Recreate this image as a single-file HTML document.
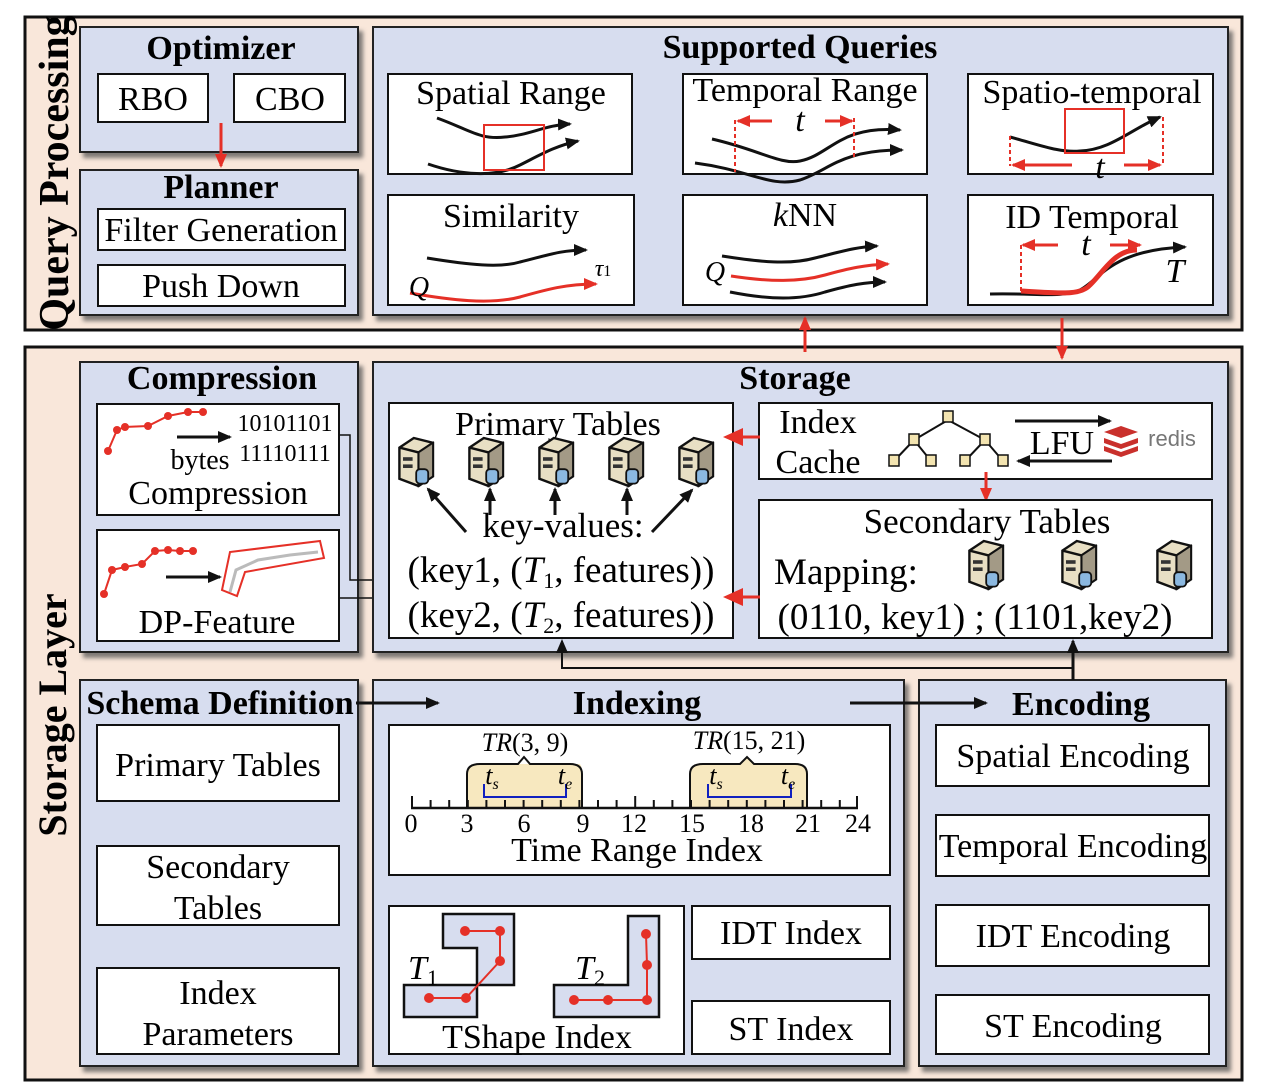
<!DOCTYPE html>
<html><head><meta charset="utf-8"><style>
html,body{margin:0;padding:0;background:#fff;}
svg{display:block;font-family:"Liberation Serif",serif;}
.p{fill:#d7ddef;stroke:#222;stroke-width:2;filter:url(#sh);}
.w{fill:#fff;stroke:#111;stroke-width:2;}
.t{font-size:34px;text-anchor:middle;}
.b{font-weight:bold;font-size:34px;text-anchor:middle;}
.k{fill:none;stroke:#111;stroke-width:3;}
.r{fill:none;stroke:#e53027;stroke-width:3;}
</style></head><body>
<svg width="1274" height="1092" viewBox="0 0 1274 1092" xmlns="http://www.w3.org/2000/svg">
<defs>
<filter id="sh" x="-5%" y="-5%" width="115%" height="120%"><feDropShadow dx="4" dy="5" stdDeviation="2" flood-color="#555" flood-opacity="0.75"/></filter>
<marker id="ab" markerWidth="8" markerHeight="8" refX="6" refY="4" orient="auto" markerUnits="userSpaceOnUse"><path d="M0,0 L8,4 L0,8 z" fill="#111"/></marker>
<marker id="ab2" markerWidth="14" markerHeight="12" refX="12" refY="6" orient="auto" markerUnits="userSpaceOnUse"><path d="M0,0 L14,6 L0,12 z" fill="#111"/></marker>
<marker id="ar" markerWidth="14" markerHeight="12" refX="12" refY="6" orient="auto" markerUnits="userSpaceOnUse"><path d="M0,0 L14,6 L0,12 z" fill="#e53027"/></marker>
<marker id="arb" markerWidth="20" markerHeight="18" refX="16" refY="9" orient="auto" markerUnits="userSpaceOnUse"><path d="M0,0 L20,9 L0,18 z" fill="#e53027"/></marker>
<g id="srv">
<path d="M2,8 L14,0 L30,4 L30,32 L18,40 L2,34 z" fill="#e8dfc4" stroke="#111" stroke-width="2"/>
<path d="M2,8 L18,12 L30,4 M18,12 L18,40" fill="none" stroke="#111" stroke-width="2"/>
<path d="M18,12 L30,4 L30,32 L18,40 z" fill="#a39a86" stroke="#111" stroke-width="1.5"/>
<rect x="5" y="16" width="8" height="3" fill="#333"/><rect x="5" y="22" width="8" height="3" fill="#333"/>
<rect x="16" y="26" width="10" height="12" rx="3" fill="#8bb8e0" stroke="#111" stroke-width="1.5"/>
</g>
</defs>

<!-- Query Processing frame -->
<rect x="25" y="17" width="1217" height="313" fill="#f9e7da" stroke="#111" stroke-width="3"/>
<text transform="translate(68,173) rotate(-90)" class="b" style="font-size:42px">Query Processing</text>

<rect x="80" y="27" width="278" height="125" class="p"/>
<text x="221" y="59" class="b">Optimizer</text>
<rect x="98" y="74" width="110" height="48" class="w"/><text x="153" y="110" class="t">RBO</text>
<rect x="234" y="74" width="111" height="48" class="w"/><text x="290" y="110" class="t">CBO</text>

<rect x="80" y="170" width="278" height="145" class="p"/>
<text x="221" y="198" class="b">Planner</text>
<rect x="98" y="209" width="247" height="41" class="w"/><text x="221" y="241" class="t">Filter Generation</text>
<rect x="98" y="265" width="247" height="41" class="w"/><text x="221" y="297" class="t">Push Down</text>
<line x1="221" y1="123" x2="221" y2="166" class="r" marker-end="url(#ar)"/>

<rect x="373" y="27" width="855" height="288" class="p"/>
<text x="800" y="58" class="b">Supported Queries</text>
<!-- row 1 -->
<rect x="388" y="74" width="244" height="100" class="w"/><text x="511" y="104" class="t">Spatial Range</text>
<path d="M437,118 C470,130 480,140 505,137 C530,135 545,125 570,124" class="k" marker-end="url(#ab2)"/>
<path d="M428,164 C460,175 495,178 520,165 C540,155 555,146 578,141" class="k" marker-end="url(#ab2)"/>
<rect x="484" y="125" width="60" height="45" fill="none" stroke="#e53027" stroke-width="2"/>

<rect x="683" y="74" width="244" height="100" class="w"/><text x="805" y="101" class="t">Temporal Range</text>
<path d="M712,139 C760,150 780,165 800,161 C830,155 840,125 900,130" class="k" marker-end="url(#ab2)"/>
<path d="M695,163 C750,170 770,188 800,180 C830,170 840,150 902,150" class="k" marker-end="url(#ab2)"/>
<line x1="735" y1="120" x2="735" y2="172" stroke="#e53027" stroke-width="2" stroke-dasharray="4,3"/>
<line x1="854" y1="118" x2="854" y2="158" stroke="#e53027" stroke-width="2" stroke-dasharray="4,3"/>
<line x1="772" y1="121" x2="738" y2="121" class="r" marker-end="url(#ar)"/>
<line x1="825" y1="121" x2="852" y2="121" class="r" marker-end="url(#ar)"/>
<text x="800" y="131" class="t" style="font-style:italic">t</text>

<rect x="968" y="74" width="245" height="100" class="w"/><text x="1092" y="103" class="t">Spatio-temporal</text>
<path d="M1010,137 C1040,145 1060,153 1080,151 C1110,150 1130,130 1160,117" class="k" marker-end="url(#ab2)"/>
<rect x="1065" y="109" width="59" height="44" fill="none" stroke="#e53027" stroke-width="2"/>
<line x1="1010" y1="136" x2="1010" y2="166" stroke="#e53027" stroke-width="2" stroke-dasharray="4,3"/>
<line x1="1163" y1="117" x2="1163" y2="166" stroke="#e53027" stroke-width="2" stroke-dasharray="4,3"/>
<line x1="1072" y1="165" x2="1013" y2="165" class="r" marker-end="url(#ar)"/>
<line x1="1124" y1="165" x2="1160" y2="165" class="r" marker-end="url(#ar)"/>
<text x="1100" y="178" class="t" style="font-style:italic">t</text>
<!-- row 2 -->
<rect x="388" y="195" width="246" height="110" class="w"/><text x="511" y="227" class="t">Similarity</text>
<path d="M427,258 C470,265 500,268 520,262 C545,256 560,250 586,250" class="k" marker-end="url(#ab2)"/>
<path d="M410,293 C450,300 490,305 520,297 C545,290 565,284 596,284" class="r" marker-end="url(#ar)"/>
<text x="419" y="296" class="t" style="font-style:italic;font-size:28px">Q</text>
<text x="603" y="276" class="t" style="font-style:italic;font-size:24px">τ<tspan font-size="16" font-style="normal">1</tspan></text>

<rect x="683" y="195" width="244" height="110" class="w"/><text x="805" y="226" class="t"><tspan font-style="italic">k</tspan>NN</text>
<path d="M722,256 C760,262 790,265 815,258 C840,252 855,247 877,246" class="k" marker-end="url(#ab2)"/>
<path d="M731,276 C770,282 800,282 825,275 C850,268 865,265 888,264" class="r" marker-end="url(#ar)"/>
<path d="M730,292 C770,300 800,300 825,292 C850,285 865,282 885,282" class="k" marker-end="url(#ab2)"/>
<text x="715" y="281" class="t" style="font-style:italic;font-size:28px">Q</text>

<rect x="968" y="195" width="245" height="110" class="w"/><text x="1092" y="228" class="t">ID Temporal</text>
<path d="M990,294 C1040,293 1060,298 1080,290 C1100,280 1110,250 1185,247" class="k" stroke-width="2.5" marker-end="url(#ab2)"/>
<path d="M1021,291 C1060,293 1080,296 1090,285 C1105,270 1115,250 1137,250" fill="none" stroke="#e53027" stroke-width="5"/>
<line x1="1021" y1="245" x2="1021" y2="294" stroke="#e53027" stroke-width="2" stroke-dasharray="4,3"/>
<line x1="1058" y1="245" x2="1023" y2="245" class="r" marker-end="url(#ar)"/>
<line x1="1110" y1="245" x2="1140" y2="245" class="r" marker-end="url(#ar)"/>
<text x="1086" y="255" class="t" style="font-style:italic">t</text>
<text x="1175" y="282" class="t" style="font-style:italic">T</text>

<!-- Storage Layer frame -->
<rect x="25" y="347" width="1217" height="733" fill="#f9e7da" stroke="#111" stroke-width="3"/>
<text transform="translate(66,715) rotate(-90)" class="b" style="font-size:40px">Storage Layer</text>

<line x1="805" y1="352" x2="805" y2="318" class="r" marker-end="url(#ar)"/>
<line x1="1062" y1="318" x2="1062" y2="358" class="r" marker-end="url(#ar)"/>

<!-- Compression -->
<rect x="80" y="362" width="278" height="290" class="p"/>
<text x="222" y="389" class="b">Compression</text>
<rect x="97" y="404" width="242" height="111" class="w"/>
<polyline points="108,451 117,430 125,427 148,426 168,416 188,412 203,412" fill="none" stroke="#e53027" stroke-width="2"/>
<g fill="#e53027"><circle cx="108" cy="451" r="4"/><circle cx="117" cy="430" r="4"/><circle cx="125" cy="427" r="4"/><circle cx="148" cy="426" r="4"/><circle cx="168" cy="416" r="4"/><circle cx="188" cy="412" r="4"/><circle cx="203" cy="412" r="4"/></g>
<line x1="177" y1="437" x2="230" y2="437" class="k" stroke-width="2" marker-end="url(#ab2)"/>
<text x="285" y="431" class="t" style="font-size:24px">10101101</text>
<text x="200" y="469" class="t" style="font-size:28px">bytes</text>
<text x="285" y="461" class="t" style="font-size:24px">11110111</text>
<text x="218" y="504" class="t">Compression</text>
<rect x="97" y="530" width="242" height="111" class="w"/>
<polyline points="104,594 112,570 125,567 142,564 155,551 168,550 180,551 193,551" fill="none" stroke="#e53027" stroke-width="2"/>
<g fill="#e53027"><circle cx="104" cy="594" r="4"/><circle cx="112" cy="570" r="4"/><circle cx="125" cy="567" r="4"/><circle cx="142" cy="564" r="4"/><circle cx="155" cy="551" r="4"/><circle cx="168" cy="550" r="4"/><circle cx="180" cy="551" r="4"/><circle cx="193" cy="551" r="4"/></g>
<line x1="166" y1="577" x2="220" y2="577" class="k" stroke-width="2" marker-end="url(#ab2)"/>
<polyline points="230,592 236,570 258,560 290,555 318,552" fill="none" stroke="#bbb" stroke-width="3"/>
<path d="M222,590 L230,552 L320,541 L324,558 L245,572 L237,596 z" fill="none" stroke="#e53027" stroke-width="2"/>
<text x="217" y="633" class="t">DP-Feature</text>
<polyline points="339,435 350,435 350,580 387,580" fill="none" stroke="#111" stroke-width="1.5" marker-end="url(#ab)"/>
<line x1="339" y1="598" x2="387" y2="598" stroke="#111" stroke-width="1.5" marker-end="url(#ab)"/>

<!-- Storage -->
<rect x="373" y="362" width="855" height="290" class="p"/>
<text x="795" y="389" class="b">Storage</text>
<rect x="389" y="403" width="344" height="235" class="w"/>
<text x="558" y="435" class="t">Primary Tables</text>
<use href="#srv" transform="translate(397,438) scale(1.2)"/><use href="#srv" transform="translate(467,438) scale(1.2)"/><use href="#srv" transform="translate(537,438) scale(1.2)"/><use href="#srv" transform="translate(607,438) scale(1.2)"/><use href="#srv" transform="translate(677,438) scale(1.2)"/>
<line x1="466" y1="532" x2="428" y2="489" class="k" stroke-width="2" marker-end="url(#ab2)"/>
<line x1="490" y1="515" x2="490" y2="489" class="k" stroke-width="2" marker-end="url(#ab2)"/>
<line x1="555" y1="515" x2="555" y2="489" class="k" stroke-width="2" marker-end="url(#ab2)"/>
<line x1="627" y1="515" x2="627" y2="489" class="k" stroke-width="2" marker-end="url(#ab2)"/>
<line x1="652" y1="532" x2="692" y2="490" class="k" stroke-width="2" marker-end="url(#ab2)"/>
<text x="563" y="537" class="t" style="font-size:35px">key-values:</text>
<text x="561" y="582" class="t" style="font-size:37px">(key1, (<tspan font-style="italic">T</tspan><tspan font-size="22" dy="6">1</tspan><tspan dy="-6">, features))</tspan></text>
<text x="561" y="627" class="t" style="font-size:37px">(key2, (<tspan font-style="italic">T</tspan><tspan font-size="22" dy="6">2</tspan><tspan dy="-6">, features))</tspan></text>

<rect x="759" y="403" width="453" height="76" class="w"/>
<text x="818" y="433" class="t">Index</text><text x="818" y="473" class="t">Cache</text>
<g stroke="#111" stroke-width="2" fill="none"><path d="M948,420 L914,440 M948,420 L985,440 M914,440 L894,461 M914,440 L931,461 M985,440 L965,461 M985,440 L1003,461"/></g>
<g fill="#f3e4b0" stroke="#111" stroke-width="1.5"><rect x="943" y="411" width="10" height="11"/><rect x="909" y="434" width="10" height="11"/><rect x="980" y="434" width="10" height="11"/><rect x="889" y="455" width="10" height="11"/><rect x="926" y="455" width="10" height="11"/><rect x="960" y="455" width="10" height="11"/><rect x="998" y="455" width="10" height="11"/></g>
<line x1="1015" y1="421" x2="1110" y2="421" class="k" stroke-width="2" marker-end="url(#ab2)"/>
<line x1="1112" y1="461" x2="1018" y2="461" class="k" stroke-width="2" marker-end="url(#ab2)"/>
<text x="1062" y="454" class="t">LFU</text>
<g fill="#c9302c"><path d="M1104,432 l17,-6 l17,6 l-17,6 z"/><path d="M1104,438 l17,6 l17,-6 v5 l-17,6 l-17,-6 z"/><path d="M1104,446 l17,6 l17,-6 v5 l-17,6 l-17,-6 z"/></g>
<text x="1172" y="446" style="font-family:'Liberation Sans',sans-serif;font-size:22px;fill:#777;text-anchor:middle">redis</text>
<line x1="986" y1="472" x2="986" y2="500" class="r" marker-end="url(#ar)"/>

<rect x="759" y="500" width="453" height="138" class="w"/>
<text x="987" y="533" class="t" style="font-size:35px">Secondary Tables</text>
<text x="846" y="584" class="t" style="font-size:37px">Mapping:</text>
<use href="#srv" transform="translate(967,541) scale(1.2)"/><use href="#srv" transform="translate(1060,541) scale(1.2)"/><use href="#srv" transform="translate(1155,541) scale(1.2)"/>
<text x="975" y="629" class="t" style="font-size:37px">(0110, key1) ; (1101,key2)</text>
<line x1="760" y1="437" x2="727" y2="437" class="r" marker-end="url(#arb)"/>
<line x1="760" y1="597" x2="727" y2="597" class="r" marker-end="url(#arb)"/>

<!-- Schema -->
<rect x="80" y="680" width="278" height="386" class="p"/>
<text x="220" y="714" class="b">Schema Definition</text>
<rect x="97" y="725" width="242" height="76" class="w"/><text x="218" y="776" class="t">Primary Tables</text>
<rect x="97" y="846" width="242" height="79" class="w"/><text x="218" y="878" class="t">Secondary</text><text x="218" y="919" class="t">Tables</text>
<rect x="97" y="968" width="242" height="86" class="w"/><text x="218" y="1004" class="t">Index</text><text x="218" y="1045" class="t">Parameters</text>

<!-- Indexing -->
<rect x="373" y="680" width="531" height="386" class="p"/>
<text x="637" y="714" class="b">Indexing</text>
<rect x="389" y="725" width="501" height="150" class="w"/>
<path d="M467,808 V774 Q467,764 480,764 H579 Q582,764 582,774 V808 z" fill="#f7e8bf"/>
<path d="M467,808 V774 Q467,764 480,764 H518 L524,757 L530,764 H570 Q582,764 582,774 V808" fill="none" stroke="#111" stroke-width="2"/>
<path d="M690,808 V774 Q690,764 703,764 H740 L747,757 L754,764 H795 Q807,764 807,774 V808 z" fill="#f7e8bf" stroke="#111" stroke-width="2"/>
<polyline points="484,784 484,797 566,797 566,784" fill="none" stroke="#1020c0" stroke-width="2"/>
<polyline points="708,784 708,797 791,797 791,784" fill="none" stroke="#1020c0" stroke-width="2"/>
<text x="525" y="751" class="t" style="font-size:26px"><tspan font-style="italic">TR</tspan>(3, 9)</text>
<text x="749" y="749" class="t" style="font-size:26px"><tspan font-style="italic">TR</tspan>(15, 21)</text>
<text x="492" y="784" class="t" style="font-size:26px;font-style:italic">t<tspan font-size="16" dy="5">s</tspan></text>
<text x="565" y="784" class="t" style="font-size:26px;font-style:italic">t<tspan font-size="16" dy="5">e</tspan></text>
<text x="716" y="784" class="t" style="font-size:26px;font-style:italic">t<tspan font-size="16" dy="5">s</tspan></text>
<text x="788" y="784" class="t" style="font-size:26px;font-style:italic">t<tspan font-size="16" dy="5">e</tspan></text>
<line x1="411" y1="808" x2="858" y2="808" stroke="#111" stroke-width="2.5"/>
<g stroke="#111" stroke-width="2">
<path d="M412,796V808 M430.6,800V808 M449.2,800V808 M467.8,800V808 M486.4,800V808 M505,800V808 M523.6,800V808 M542.2,800V808 M560.8,800V808 M579.4,800V808 M598,800V808 M616.6,800V808 M635.2,796V808 M653.8,800V808 M672.4,800V808 M691,800V808 M709.6,800V808 M728.2,800V808 M746.8,800V808 M765.4,800V808 M784,800V808 M802.6,800V808 M821.2,800V808 M839.8,800V808 M857,796V808"/>
</g>
<g class="t" style="font-size:26px">
<text x="411" y="832" text-anchor="middle">0</text><text x="467" y="832" text-anchor="middle">3</text><text x="524" y="832" text-anchor="middle">6</text><text x="583" y="832" text-anchor="middle">9</text><text x="634" y="832" text-anchor="middle">12</text><text x="692" y="832" text-anchor="middle">15</text><text x="751" y="832" text-anchor="middle">18</text><text x="808" y="832" text-anchor="middle">21</text><text x="858" y="832" text-anchor="middle">24</text>
</g>
<text x="637" y="861" class="t">Time Range Index</text>

<rect x="389" y="906" width="295" height="148" class="w"/>
<path d="M443,914 H514 V985 H477 V1017 H404 V985 H477 V948 H443 z" fill="#d7ddef" stroke="#111" stroke-width="2.5"/>
<path d="M628,916 H659 V1017 H554 V985 H628 z" fill="#d7ddef" stroke="#111" stroke-width="2.5"/>
<polyline points="465,931 500,931 500,961 466,998 429,998" fill="none" stroke="#e53027" stroke-width="2"/>
<g fill="#e53027"><circle cx="465" cy="931" r="5"/><circle cx="500" cy="931" r="5"/><circle cx="500" cy="961" r="5"/><circle cx="466" cy="998" r="5"/><circle cx="429" cy="998" r="5"/></g>
<polyline points="646,934 647,965 647,1000 608,1000 574,1000" fill="none" stroke="#e53027" stroke-width="2"/>
<g fill="#e53027"><circle cx="646" cy="934" r="5"/><circle cx="647" cy="965" r="5"/><circle cx="647" cy="1000" r="5"/><circle cx="608" cy="1000" r="5"/><circle cx="574" cy="1000" r="5"/></g>
<text x="423" y="979" class="t" style="font-style:italic;font-size:34px">T<tspan font-style="normal" font-size="22" dy="6">1</tspan></text>
<text x="590" y="979" class="t" style="font-style:italic;font-size:34px">T<tspan font-style="normal" font-size="22" dy="6">2</tspan></text>
<text x="537" y="1048" class="t">TShape Index</text>
<rect x="692" y="906" width="198" height="53" class="w"/><text x="791" y="944" class="t">IDT Index</text>
<rect x="692" y="1001" width="198" height="53" class="w"/><text x="791" y="1040" class="t">ST Index</text>

<!-- Encoding -->
<rect x="919" y="680" width="307" height="386" class="p"/>
<text x="1081" y="715" class="b">Encoding</text>
<rect x="936" y="725" width="273" height="61" class="w"/><text x="1073" y="767" class="t">Spatial Encoding</text>
<rect x="936" y="815" width="273" height="61" class="w"/><text x="1073" y="857" class="t">Temporal Encoding</text>
<rect x="936" y="905" width="273" height="61" class="w"/><text x="1073" y="947" class="t">IDT Encoding</text>
<rect x="936" y="995" width="273" height="59" class="w"/><text x="1073" y="1037" class="t">ST Encoding</text>

<!-- connectors -->
<line x1="356" y1="703" x2="438" y2="703" class="k" stroke-width="2" marker-end="url(#ab2)"/>
<line x1="850" y1="703" x2="986" y2="703" class="k" stroke-width="2" marker-end="url(#ab2)"/>
<line x1="1073" y1="680" x2="1073" y2="641" class="k" stroke-width="2" marker-end="url(#ab2)"/>
<polyline points="1073,668 562,668 562,641" fill="none" stroke="#111" stroke-width="2" marker-end="url(#ab2)"/>
</svg>
</body></html>
